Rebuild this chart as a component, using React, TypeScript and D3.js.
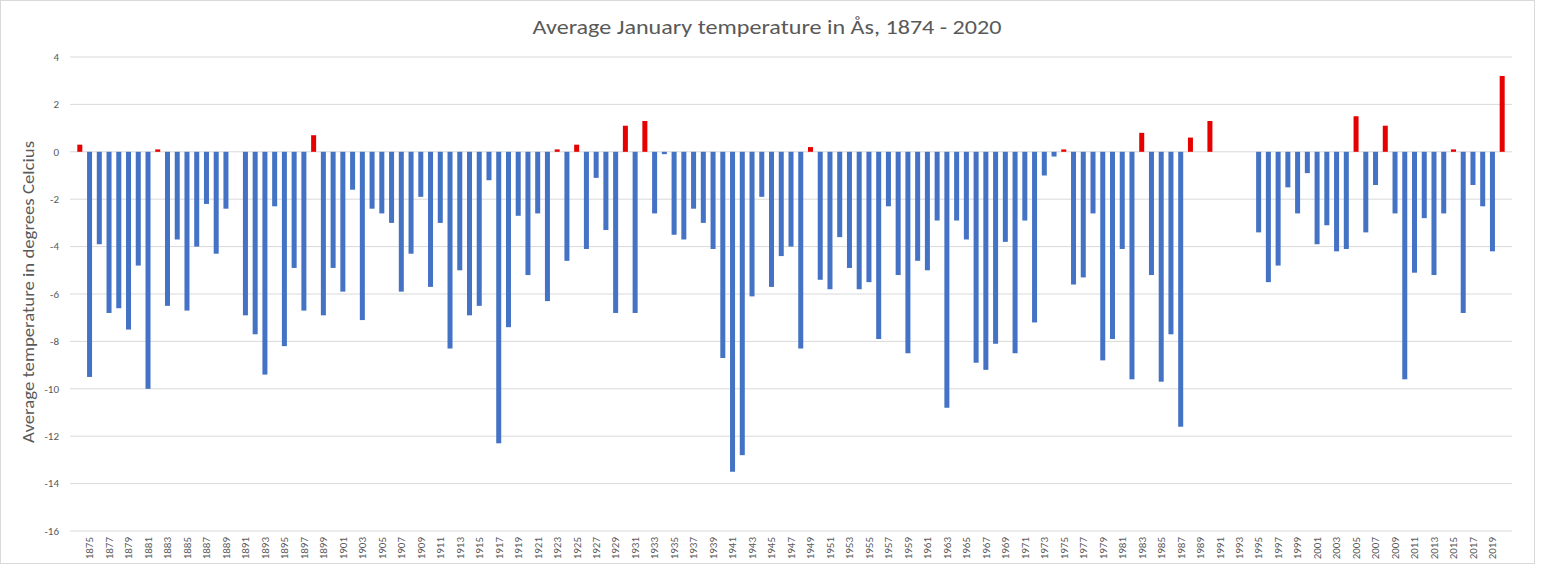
import React from "react";
import * as d3 from "d3";

const firstYear = 1874;
const lastYear = 2020;
const years: number[] = d3.range(firstYear, lastYear + 1);

// Average January temperature (°C), 1874..2020; null = no data
const temps: (number | null)[] = [
  // 1874-1883
  0.3, -9.5, -3.9, -6.8, -6.6, -7.5, -4.8, -10.0, 0.1, -6.5,
  // 1884-1893
  -3.7, -6.7, -4.0, -2.2, -4.3, -2.4, null, -6.9, -7.7, -9.4,
  // 1894-1903
  -2.3, -8.2, -4.9, -6.7, 0.7, -6.9, -4.9, -5.9, -1.6, -7.1,
  // 1904-1913
  -2.4, -2.6, -3.0, -5.9, -4.3, -1.9, -5.7, -3.0, -8.3, -5.0,
  // 1914-1923
  -6.9, -6.5, -1.2, -12.3, -7.4, -2.7, -5.2, -2.6, -6.3, 0.1,
  // 1924-1933
  -4.6, 0.3, -4.1, -1.1, -3.3, -6.8, 1.1, -6.8, 1.3, -2.6,
  // 1934-1943
  -0.1, -3.5, -3.7, -2.4, -3.0, -4.1, -8.7, -13.5, -12.8, -6.1,
  // 1944-1953
  -1.9, -5.7, -4.4, -4.0, -8.3, 0.2, -5.4, -5.8, -3.6, -4.9,
  // 1954-1963
  -5.8, -5.5, -7.9, -2.3, -5.2, -8.5, -4.6, -5.0, -2.9, -10.8,
  // 1964-1973
  -2.9, -3.7, -8.9, -9.2, -8.1, -3.8, -8.5, -2.9, -7.2, -1.0,
  // 1974-1983
  -0.2, 0.1, -5.6, -5.3, -2.6, -8.8, -7.9, -4.1, -9.6, 0.8,
  // 1984-1993
  -5.2, -9.7, -7.7, -11.6, 0.6, null, 1.3, null, null, null,
  // 1994-2003
  null, -3.4, -5.5, -4.8, -1.5, -2.6, -0.9, -3.9, -3.1, -4.2,
  // 2004-2013
  -4.1, 1.5, -3.4, -1.4, 1.1, -2.6, -9.6, -5.1, -2.8, -5.2,
  // 2014-2020
  -2.6, 0.1, -6.8, -1.4, -2.3, -4.2, 3.2,
];

const yTicks: number[] = d3.range(-16, 5, 2);
const xTickYears: number[] = years.filter((y) => y % 2 === 1);

const title = "Average January temperature in Ås, 1874 - 2020";
const yTitle = "Average temperature in degrees Celcius";

const W = 1552;
const H = 573;
const FONT = "Carlito, Calibri, Lato, 'Open Sans', sans-serif";
const TEXT = "#595959";
const GRID = "#d9d9d9";
const BLUE = "#4472c4";
const RED = "#e60000";

export default function App() {
  const plotLeft = 70;
  const plotRight = 1512;
  const x = d3
    .scaleBand<number>()
    .domain(years)
    .range([plotLeft, plotRight])
    .paddingInner(0.486)
    .paddingOuter(0.75);
  const y = d3.scaleLinear().domain([-16, 4]).range([531, 57]);
  const bw = x.bandwidth();

  return (
    <svg
      width={W}
      height={H}
      style={{ position: "absolute", left: 0, top: 0, display: "block", background: "#fff" }}
      fontFamily={FONT}
    >
      <rect x={0.5} y={0.5} width={1534} height={563} fill="#fff" stroke={GRID} strokeWidth={1} />
      <text
        x={767}
        y={34}
        textAnchor="middle"
        fontSize={20}
        fill={TEXT}
        textLength={469}
        lengthAdjust="spacingAndGlyphs"
      >
        {title}
      </text>
      {yTicks.map((t) => (
        <g key={t}>
          <line x1={plotLeft} x2={plotRight} y1={y(t)} y2={y(t)} stroke={GRID} strokeWidth={1} />
          <text x={59} y={y(t)} dy="0.35em" textAnchor="end" fontSize={11} fill={TEXT}>
            {t}
          </text>
        </g>
      ))}
      <text
        transform={`translate(34, 292) rotate(-90)`}
        textAnchor="middle"
        fontSize={16}
        fill={TEXT}
        textLength={302}
        lengthAdjust="spacingAndGlyphs"
      >
        {yTitle}
      </text>
      {years.map((yr, i) => {
        const v = temps[i];
        if (v === null || v === undefined) return null;
        const x0 = x(yr) as number;
        const y0 = Math.min(y(v), y(0));
        const h = Math.abs(y(v) - y(0));
        return <rect key={yr} x={x0} y={y0} width={bw} height={h} fill={v >= 0 ? RED : BLUE} />;
      })}
      {xTickYears.map((yr) => {
        const cx = (x(yr) as number) + bw / 2;
        return (
          <text
            key={yr}
            transform={`translate(${cx}, 537) rotate(-90)`}
            dy="0.35em"
            textAnchor="end"
            fontSize={11}
            fill={TEXT}
          >
            {yr}
          </text>
        );
      })}
    </svg>
  );
}
